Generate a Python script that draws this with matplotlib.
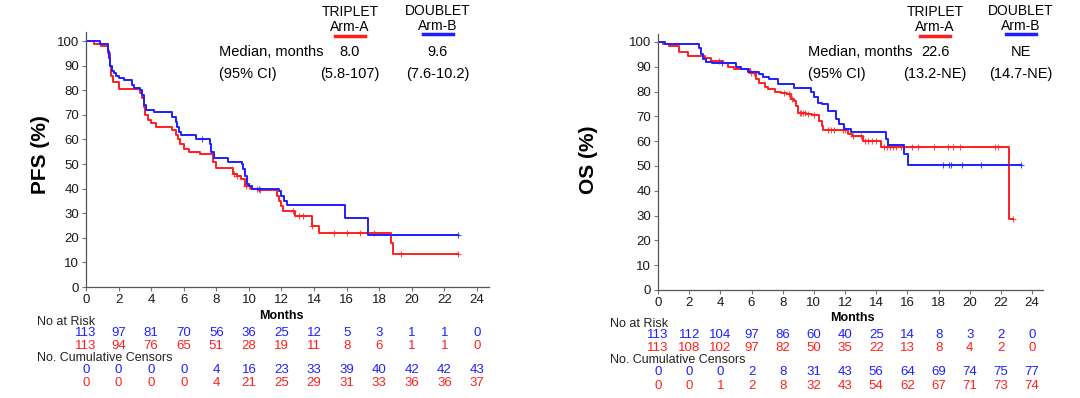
import numpy as np
import matplotlib
matplotlib.use('Agg')
import matplotlib.pyplot as plt
from matplotlib.transforms import blended_transform_factory

plt.rcParams['font.family'] = ['Liberation Sans', 'DejaVu Sans']

RED = '#ff1f1f'
BLUE = '#1f1fff'

# PFS, arm A (triplet)
pfs_a_t = [0, 0.5, 0.9, 1.35, 1.45, 1.55, 1.65, 2.05, 3.3, 3.45, 3.55, 3.65, 3.8, 4.0, 4.3, 5.3, 5.5, 5.65,
           5.8, 6.0, 6.3, 7.0, 7.8, 7.95, 9.0, 9.25, 9.5, 9.75, 10.1, 10.6, 11.75, 11.85, 11.95, 12.1, 12.8,
           13.85, 14.3, 18.75, 18.85]
pfs_a_s = [100, 99, 98, 95, 90, 86, 83.5, 80.5, 79, 77, 73, 70, 68, 66.5, 65, 64, 62, 60,
           58, 56, 55, 54, 51, 48.5, 46, 45, 44, 41, 40, 39.5, 37, 35, 33, 31, 29,
           25, 22, 18, 13.5]
pfs_a_end = 22.85
pfs_a_cens = [9.1, 9.3, 9.8, 10.0, 10.5, 10.7, 12.7, 13.1, 13.3, 13.9, 15.2, 16.0, 16.85, 17.7, 19.35, 22.85]

# PFS, arm B (doublet)
pfs_b_t = [0, 0.85, 1.35, 1.42, 1.48, 1.6, 1.7, 1.85, 2.05, 2.35, 2.8, 2.95, 3.3, 3.45, 3.55, 3.7, 4.15, 5.3,
           5.5, 5.6, 5.7, 5.85, 6.75, 7.6, 7.7, 7.85, 8.7, 9.55, 9.65, 9.75, 9.9, 10.0, 10.2, 11.85, 12.0,
           12.15, 12.35, 15.9, 17.3]
pfs_b_s = [100, 99, 96, 93, 90, 88, 87, 86, 85, 84, 82, 81, 80, 78, 74, 72, 71, 69,
           67, 65, 63, 62, 60, 58, 55, 52.5, 51, 50, 48, 45, 42, 41, 40, 39, 37,
           35, 33.5, 28, 21]
pfs_b_end = 22.85
pfs_b_cens = [7.1, 10.6, 22.85]

# OS, arm A (triplet)
os_a_t = [0, 0.3, 0.7, 1.35, 1.95, 3.0, 3.4, 4.2, 4.5, 4.9, 5.9, 6.3, 6.5, 6.85, 7.05, 7.5, 7.9, 8.3, 8.55,
          8.75, 8.85, 8.95, 9.5, 9.9, 10.3, 10.5, 10.6, 12.2, 12.45, 13.15, 14.3, 22.55]
os_a_s = [100, 99, 98.5, 96, 94.5, 93.5, 92.5, 91.5, 90, 89, 87.5, 85, 83.5, 82, 81, 80, 79.5, 79, 77,
          76, 74, 71.5, 71, 70.5, 68, 66, 64.5, 63, 62, 60, 57.5, 28.5]
os_a_end = 22.8
os_a_cens = [3.9, 5.95, 6.15, 8.1, 8.4, 8.6, 9.1, 9.2, 9.3, 9.45, 9.6, 10.0, 10.9, 11.1, 11.3, 11.9, 12.0,
             12.5, 13.0, 13.3, 13.5, 13.7, 14.0, 14.5, 14.7, 14.9, 15.1, 15.3, 15.6, 15.8, 16.3, 16.7,
             17.7, 18.6, 18.9, 19.4, 21.6, 21.8, 22.8]

# OS, arm B (doublet)
os_b_t = [0, 0.45, 2.6, 2.75, 2.9, 3.1, 3.45, 5.0, 5.35, 5.8, 6.5, 6.75, 7.15, 7.7, 8.75, 9.8, 10.0, 10.25,
          10.55, 10.9, 11.4, 11.6, 11.95, 12.35, 14.6, 14.75, 15.8, 16.05]
os_b_s = [100, 99, 97.5, 95, 93, 92, 91.5, 90, 89, 88, 87, 86, 85, 83, 81.5, 80, 78, 75.5,
          75, 72, 69, 67, 65, 63.5, 61, 58.5, 55, 50.5]
os_b_end = 23.3
os_b_cens = [4.1, 18.3, 18.7, 18.8, 19.5, 20.7, 23.3]

months = [0, 2, 4, 6, 8, 10, 12, 14, 16, 18, 20, 22, 24]
pfs_risk_b = [113, 97, 81, 70, 56, 36, 25, 12, 5, 3, 1, 1, 0]
pfs_risk_a = [113, 94, 76, 65, 51, 28, 19, 11, 8, 6, 1, 1, 0]
pfs_cens_b = [0, 0, 0, 0, 4, 16, 23, 33, 39, 40, 42, 42, 43]
pfs_cens_a = [0, 0, 0, 0, 4, 21, 25, 29, 31, 33, 36, 36, 37]
os_risk_b = [113, 112, 104, 97, 86, 60, 40, 25, 14, 8, 3, 2, 0]
os_risk_a = [113, 108, 102, 97, 82, 50, 35, 22, 13, 8, 4, 2, 0]
os_cens_b = [0, 0, 0, 2, 8, 31, 43, 56, 64, 69, 74, 75, 77]
os_cens_a = [0, 0, 1, 2, 8, 32, 43, 54, 62, 67, 71, 73, 74]

W, H = 1080, 398
fig = plt.figure(figsize=(W / 100, H / 100), dpi=100)


def box(l, t, r, b):
    return [l / W, 1 - b / H, (r - l) / W, (b - t) / H]


def ftext(x, y, s, **kw):
    fig.text(x / W, 1 - y / H, s, va='center', **kw)


def km(ax, t, s, end, cens, color):
    tt = list(t) + [end]
    ss = list(s) + [s[-1]]
    ax.step(tt, ss, where='post', color=color, lw=1.4)
    idx = np.searchsorted(t, cens, side='right') - 1
    cy = np.array(s)[idx]
    ax.plot(cens, cy, '+', color=color, ms=5, mew=0.8, alpha=0.8)


def panel(rect, xmax, ymax, ylab, curves, rows, header, lab_x, lab_y):
    ax = fig.add_axes(box(*rect))
    for c in curves:
        km(ax, *c)
    ax.set_xlim(0, xmax)
    ax.set_ylim(0, ymax)
    ax.set_xticks(months)
    ax.set_yticks(range(0, 101, 10))
    for sp in ['top', 'right']:
        ax.spines[sp].set_visible(False)
    for sp in ['left', 'bottom']:
        ax.spines[sp].set_color('#555555')
        ax.spines[sp].set_linewidth(0.9)
    ax.tick_params(direction='out', length=3, width=0.8, color='#777777',
                   labelsize=9.5, labelcolor='#1a1a1a', pad=2)
    fig.text(lab_x / W, 1 - lab_y / H, ylab, rotation=90, ha='center', va='center',
             fontsize=15, fontweight='bold')

    tr = blended_transform_factory(ax.transData, fig.transFigure)
    mx, my = rows['months']
    ax.text(mx, 1 - my / H, 'Months', transform=tr, ha='center', va='center',
            fontsize=9, fontweight='bold')
    lx = rows['label_x']
    ftext(lx, rows['y'][0], 'No at Risk', fontsize=9, color='#222222')
    ftext(lx, rows['y'][3], 'No. Cumulative Censors', fontsize=9, color='#222222')
    for vals, y, col in [(rows['vals'][0], rows['y'][1], BLUE), (rows['vals'][1], rows['y'][2], RED),
                         (rows['vals'][2], rows['y'][4], BLUE), (rows['vals'][3], rows['y'][5], RED)]:
        for m, v in zip(months, vals):
            ax.text(m, 1 - y / H, str(v), transform=tr, ha='center', va='center',
                    fontsize=9.5, color=col)

    # header block
    hx_a, hx_b, med_x, line_y, med_vals, ci_vals = header
    ftext(hx_a, 12, 'TRIPLET', ha='center', fontsize=10)
    ftext(hx_a, 27, 'Arm-A', ha='center', fontsize=10)
    ftext(hx_b, 11, 'DOUBLET', ha='center', fontsize=10)
    ftext(hx_b, 26, 'Arm-B', ha='center', fontsize=10)
    fig.add_artist(plt.Line2D([(hx_a - 15) / W, (hx_a + 15) / W], [1 - line_y / H] * 2,
                              color=RED, lw=2.5))
    fig.add_artist(plt.Line2D([(hx_b - 15) / W, (hx_b + 15) / W], [1 - (line_y - 2) / H] * 2,
                              color=BLUE, lw=2.5))
    ftext(med_x, 52, 'Median, months', fontsize=10.5)
    ftext(med_x, 74, '(95% CI)', fontsize=10.5)
    ftext(hx_a, 52, med_vals[0], ha='center', fontsize=10.5)
    ftext(hx_b, 52, med_vals[1], ha='center', fontsize=10.5)
    ftext(hx_a, 74, ci_vals[0], ha='center', fontsize=10.5)
    ftext(hx_b, 74, ci_vals[1], ha='center', fontsize=10.5)
    return ax


panel((86, 32, 489, 287), 24.74, 103.7, 'PFS (%)',
      [(pfs_a_t, pfs_a_s, pfs_a_end, pfs_a_cens, RED),
       (pfs_b_t, pfs_b_s, pfs_b_end, pfs_b_cens, BLUE)],
      {'months': (12, 316), 'label_x': 37, 'y': [322, 333, 346, 358, 370, 383],
       'vals': [pfs_risk_b, pfs_risk_a, pfs_cens_b, pfs_cens_a]},
      (350, 438, 219, 36, ['8.0', '9.6'], ['(5.8-107)', '(7.6-10.2)']),
      40, 155)

panel((658, 34, 1043, 290), 24.7, 103.2, 'OS (%)',
      [(os_a_t, os_a_s, os_a_end, os_a_cens, RED),
       (os_b_t, os_b_s, os_b_end, os_b_cens, BLUE)],
      {'months': (12.5, 318), 'label_x': 610, 'y': [324, 335, 348, 360, 372, 386],
       'vals': [os_risk_b, os_risk_a, os_cens_b, os_cens_a]},
      (935, 1021, 808, 36, ['22.6', 'NE'], ['(13.2-NE)', '(14.7-NE)']),
      588, 160)

fig.savefig('out.png', dpi=100)
